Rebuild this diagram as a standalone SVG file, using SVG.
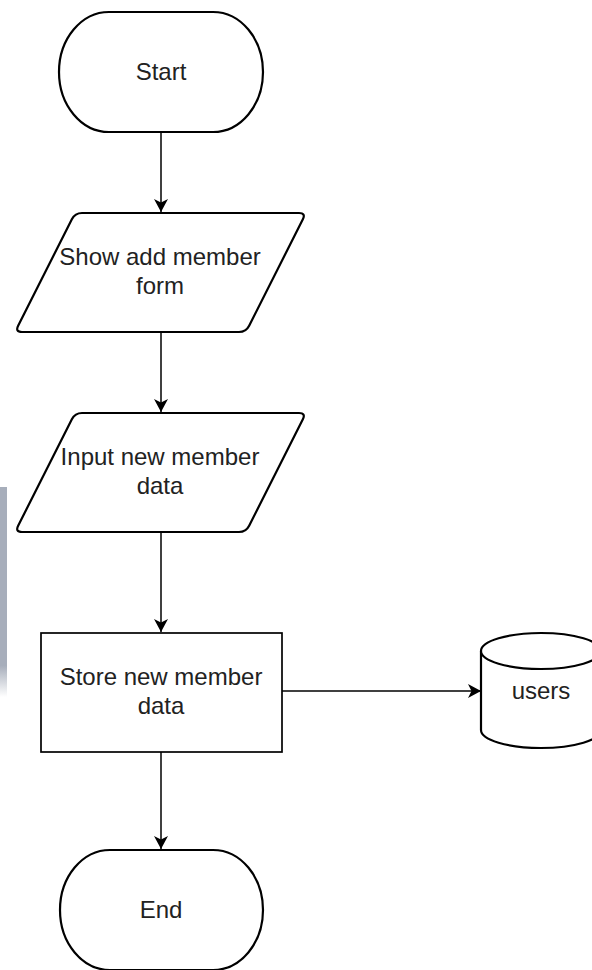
<svg xmlns="http://www.w3.org/2000/svg" width="592" height="970" viewBox="0 0 592 970">
<style>
.shape{fill:#fff;stroke:#000;stroke-width:2.2;stroke-linejoin:round}
.rect{fill:#fff;stroke:#000;stroke-width:1.7}
.edge{fill:none;stroke:#000;stroke-width:1.5}
text{font-family:"Liberation Sans",Arial,Helvetica,sans-serif;font-size:24px;fill:#222;text-anchor:middle}
</style>
<defs>
<marker id="arrow" markerUnits="userSpaceOnUse" markerWidth="15" markerHeight="15" refX="13" refY="7" orient="auto">
<path d="M0,0 L13,7 L0,14 L3.5,7 Z" fill="#000"/>
</marker>
<linearGradient id="fade" x1="0" y1="0" x2="0" y2="1">
<stop offset="0" stop-color="#a7aebb"/>
<stop offset="0.85" stop-color="#a7aebb"/>
<stop offset="1" stop-color="#a7aebb" stop-opacity="0"/>
</linearGradient>
<path id="para" d="M82,213 L299,213 Q306,213 302.85,219.25 L249.15,325.75 Q246,332 239,332 L22,332 Q15,332 18.15,325.75 L71.85,219.25 Q75,213 82,213 Z"/>
</defs>
<rect x="0" y="487" width="7" height="210" fill="url(#fade)"/>
<g id="edges">
<line class="edge" x1="161" y1="132" x2="161" y2="212" marker-end="url(#arrow)"/>
<line class="edge" x1="161" y1="332" x2="161" y2="412" marker-end="url(#arrow)"/>
<line class="edge" x1="161" y1="532" x2="161" y2="632" marker-end="url(#arrow)"/>
<line class="edge" x1="282" y1="691" x2="481" y2="691" marker-end="url(#arrow)"/>
<line class="edge" x1="161" y1="752" x2="161" y2="849" marker-end="url(#arrow)"/>
</g>
<g id="start">
<rect class="shape" x="59" y="12" width="204" height="120" rx="50" ry="60"/>
<text x="161" y="80">Start</text>
</g>
<g id="show-form">
<use href="#para" class="shape"/>
<text x="160" y="265">Show add member</text>
<text x="160" y="294">form</text>
</g>
<g id="input-data">
<use href="#para" class="shape" transform="translate(0,200)"/>
<text x="160" y="465">Input new member</text>
<text x="160" y="494">data</text>
</g>
<g id="store-data">
<rect class="rect" x="41" y="633" width="241" height="119"/>
<text x="161" y="685">Store new member</text>
<text x="161" y="714">data</text>
</g>
<g id="users">
<path class="shape" d="M481,651 A60,18 0 0 1 601,651 L601,730 A60,18 0 0 1 481,730 Z"/>
<path class="shape" fill="none" d="M481,651 A60,18 0 0 0 601,651"/>
<text x="541" y="699">users</text>
</g>
<g id="end">
<rect class="shape" x="60" y="850" width="203" height="120" rx="50" ry="60"/>
<text x="161" y="918">End</text>
</g>
</svg>
